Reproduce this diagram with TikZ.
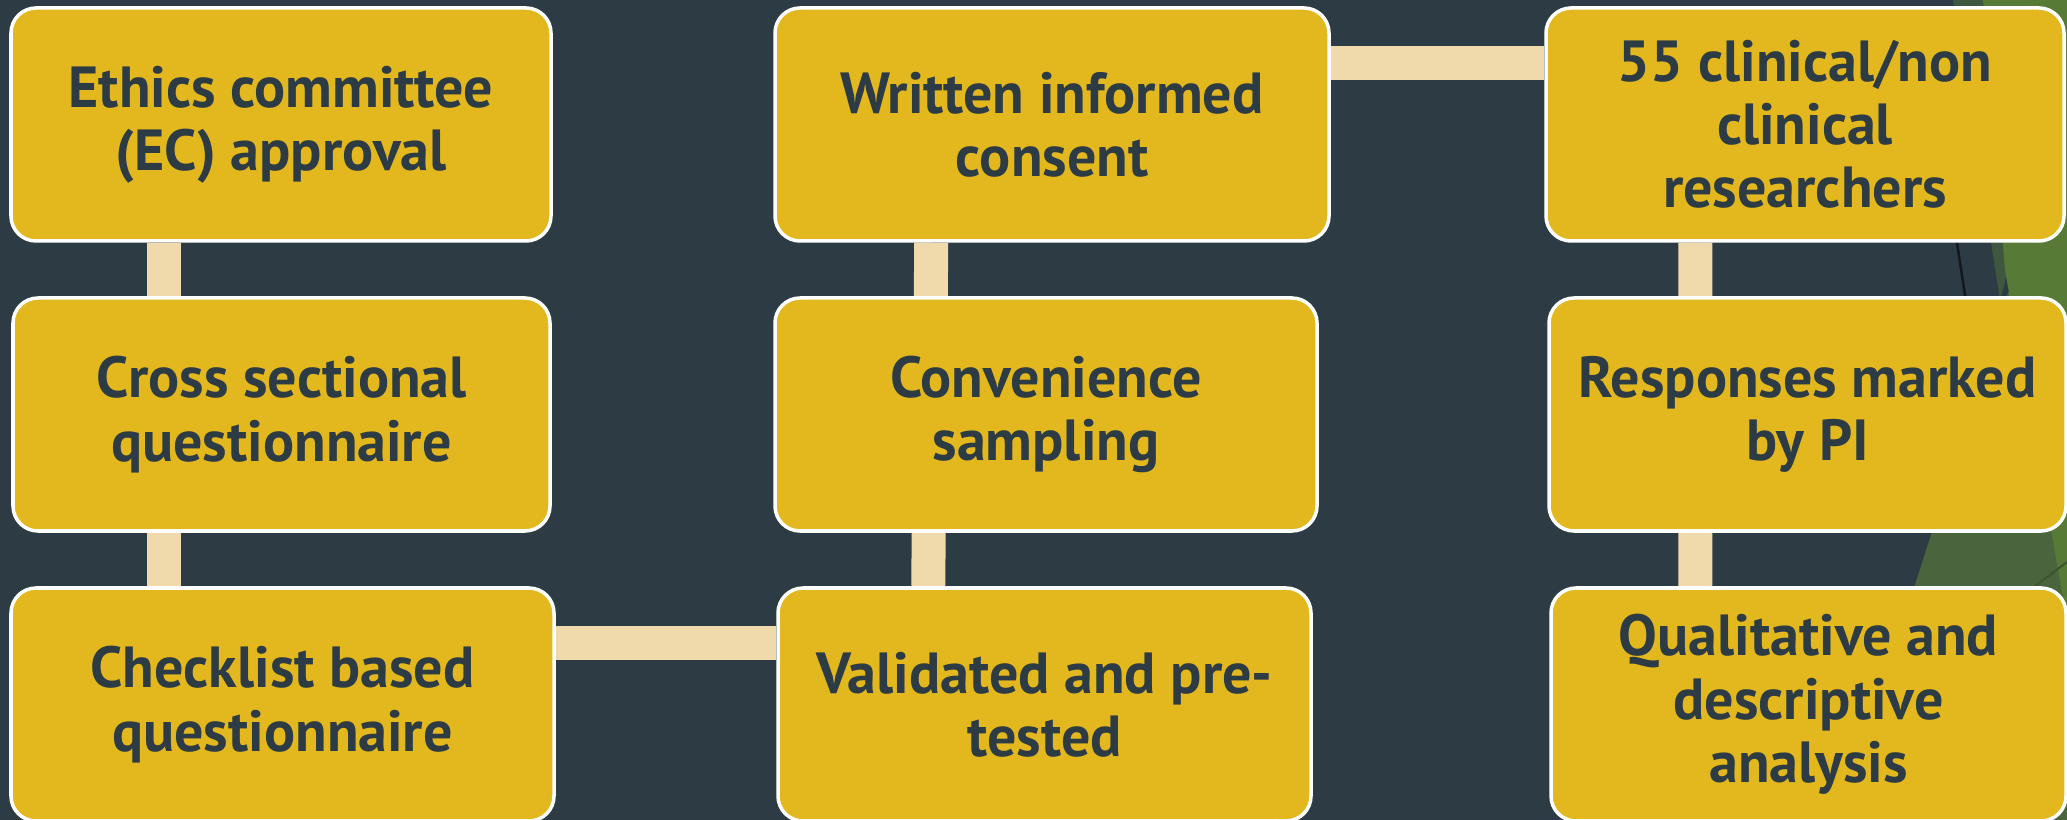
\documentclass[tikz,border=0pt]{standalone}
\usepackage{fontspec}
\setmainfont{PT Sans}
\usetikzlibrary{backgrounds}
\definecolor{slate}{HTML}{2C3B44}
\definecolor{gold}{HTML}{E3B81E}
\definecolor{sand}{HTML}{F0DAAB}
\definecolor{moss}{HTML}{4A653E}
\definecolor{leaf}{HTML}{577A37}
\definecolor{fern}{HTML}{40573F}
\definecolor{olive}{HTML}{3E5530}
\tikzset{
  stage/.style={draw=white,line width=1pt,fill=gold,rounded corners=0.25cm,minimum height=2.33cm,
    text=slate,align=center,inner sep=2pt,font=\bfseries\fontsize{16.5}{18}\selectfont},
  link/.style={draw=sand,line width=0.34cm}
}
\begin{document}
\begin{tikzpicture}
  \useasboundingbox (0,0) rectangle (20.67,8.20);
  \clip (0,0) rectangle (20.67,8.20);
  % first column
  \node[stage,minimum width=5.40cm] (ethics) at (2.810,6.955) {Ethics committee\\(EC) approval};
  \node[stage,minimum width=5.37cm] (cross) at (2.815,4.055) {Cross sectional\\questionnaire};
  \node[stage,minimum width=5.43cm] (check) at (2.825,1.155) {Checklist based\\questionnaire};
  % second column
  \node[stage,minimum width=5.54cm] (consent) at (10.520,6.955) {Written informed\\consent};
  \node[stage,minimum width=5.42cm] (sampling) at (10.460,4.055) {Convenience\\sampling};
  \node[stage,minimum width=5.33cm] (validated) at (10.445,1.155) {Validated and pre-\\tested};
  % third column
  \node[stage,minimum width=5.18cm] (subjects) at (18.050,6.955) {55 clinical/non\\clinical\\researchers};
  \node[stage,minimum width=5.17cm] (responses) at (18.075,4.055) {Responses marked\\by PI};
  \node[stage,minimum width=5.15cm] (analysis) at (18.085,1.155) {Qualitative and\\descriptive\\analysis};
  \begin{pgfonlayer}{background}
    \fill[slate] (0,0) rectangle (20.67,8.20);
    % facets on the right edge
    \fill[moss] (20.25,5.80) -- (18.40,0) -- (20.67,0) -- (20.67,5.80) -- cycle;
    \fill[fern] (19.53,8.20) -- (19.85,8.20) -- (20.08,5.50) -- (20.00,5.20) -- cycle;
    \fill[leaf] (19.83,8.20) -- (20.67,8.20) -- (20.67,2.00) -- (20.05,5.50) -- cycle;
    \draw[black!60!slate,line width=0.7pt] (19.52,6.10) -- (19.68,5.05);
    \draw[olive,line width=0.6pt] (20.05,5.00) -- (20.17,4.25);
    \draw[olive,line width=0.6pt] (20.30,2.30) -- (20.67,2.58);
    % connectors
    \draw[link] ([xshift=1.55cm]ethics.south west) -- ([xshift=1.55cm]check.north west);
    \draw[link] ([xshift=1.58cm]consent.south west) -- ([xshift=1.52cm]validated.north west);
    \draw[link] ([xshift=1.51cm]subjects.south west) -- ([xshift=1.46cm]analysis.north west);
    \draw[link] ([yshift=-0.57cm]consent.north east) -- ([yshift=-0.57cm]subjects.north west);
    \draw[link] ([yshift=-0.57cm]check.north east) -- ([yshift=-0.57cm]validated.north west);
  \end{pgfonlayer}
\end{tikzpicture}
\end{document}
